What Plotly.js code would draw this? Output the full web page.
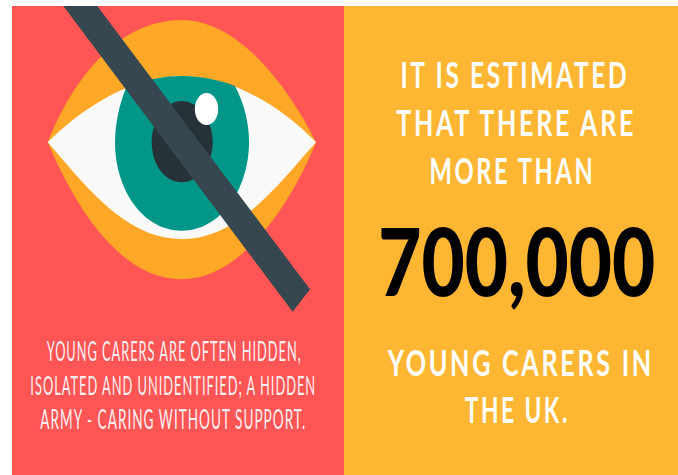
<!DOCTYPE html>
<html>
<head>
<meta charset="utf-8">
<script src="https://cdn.plot.ly/plotly-3.0.1.min.js"></script>
<style>html,body{margin:0;padding:0;background:#fff}</style>
</head>
<body>
<div id="chart" style="width:678px;height:475px"></div>
<script>
// Text lines and where each one sits in the reference
const textLines = [
  "YOUNG CARERS ARE OFTEN HIDDEN,",
  "ISOLATED AND UNIDENTIFIED; A HIDDEN",
  "ARMY - CARING WITHOUT SUPPORT.",
  "IT IS ESTIMATED",
  "THAT THERE ARE",
  "MORE THAN",
  "700,000",
  "YOUNG CARERS IN",
  "THE UK."
];
const lineCentreX = [173.5, 173, 173, 515, 516, 512.5, 516.5, 520, 517.5];
const lineCentreY = [350, 384, 418, 73, 121, 169, 260, 361, 408];
const lineWidth   = [255, 286, 266, 229, 240, 166, 277, 267, 105];
const lineSize    = [27, 27, 27, 37, 37, 37, 93, 37, 37];
const lineColor   = ["#fff0f0","#fff0f0","#fff0f0","#ffffff","#ffffff","#ffffff","#000000","#ffffff","#ffffff"];
const lineWeight  = [400, 400, 400, 700, 700, 700, 900, 700, 700];
const lineGap     = [2, 2, 2, 4, 4, 4, 0, 4, 4];

// Illustration outlines
const orangeOutline = "M47.7,142.3 C70,85 115,20 181.7,20 C240,20 290,90 316,142.3 C295,195 245,279.3 181.7,279.3 C115,279.3 70,195 47.7,142.3 Z";
const scleraOutline = "M47.7,142.3 C80,110 130,76 181.7,76 C235,76 285,110 316,142.3 C278,185 238,239 181.7,239 C125,239 85,185 47.7,142.3 Z";
const irisOutline   = "M126,88 C145,79 165,76 181.7,76 C200,76 220,80 235,86 C245,105 249,125 249,142 C249,190 220,230.7 181.7,230.7 C143,230.7 115,190 115,142 C115,125 119,105 126,88 Z";
const pupilOutline  = "M151.7,142 C151.7,120 165,101 181.7,101 C198,101 212.7,120 212.7,142 C212.7,165 198,182.3 181.7,182.3 C165,182.3 151.7,165 151.7,142 Z";
const glintOutline  = "M194.8,109 C194.8,100 200,93 206.5,93 C213,93 218.2,100 218.2,109 C218.2,118 213,125 206.5,125 C200,125 194.8,118 194.8,109 Z";
const slashOutline  = "M63.3,6 L97.3,6 L310,289.3 L292.7,311.7 Z";
const leftPanel  = "M12,6 L344,6 L344,475 L12,475 Z";
const rightPanel = "M344,6 L678,6 L678,475 L344,475 Z";

const paths  = [leftPanel, rightPanel, orangeOutline, scleraOutline, irisOutline, pupilOutline, glintOutline, slashOutline];
const fills  = ["#ff5555", "#ffb733", "#ffa726", "#fafafa", "#009688", "#263238", "#ffffff", "#37474f"];

const layout = {
  width: 678, height: 475,
  margin: {l:0, r:0, t:0, b:0},
  paper_bgcolor: "#ffffff", plot_bgcolor: "#ffffff",
  showlegend: false,
  xaxis: {range:[0,678], visible:false, fixedrange:true},
  yaxis: {range:[475,0], visible:false, fixedrange:true},
  shapes: paths.map((p,i)=>({type:"path", path:p, xref:"x", yref:"y", fillcolor:fills[i], line:{width:0}, layer:"below"})),
  annotations: textLines.map((t,i)=>({
    text:t, x:lineCentreX[i], y:lineCentreY[i], xref:"x", yref:"y",
    xanchor:"center", yanchor:"middle", showarrow:false,
    font:{family:"Lato, 'Open Sans', sans-serif", size:lineSize[i], color:lineColor[i], weight:lineWeight[i]}
  }))
};
const trace = {x:[0,678], y:[0,475], type:"scatter", mode:"markers", marker:{opacity:0}, hoverinfo:"skip"};
Plotly.newPlot("chart", [trace], layout, {displayModeBar:false, staticPlot:true}).then(gd=>{
  gd.querySelectorAll(".annotation-text").forEach((el,i)=>{
    el.style.letterSpacing = lineGap[i] + "px";
    const box = el.getBBox();
    const cx = box.x + box.width/2;
    const sx = lineWidth[i] / box.width;
    const old = el.getAttribute("transform") || "";
    el.setAttribute("transform", old + ` translate(${cx},0) scale(${sx},1) translate(${-cx},0)`);
  });
});
</script>
</body>
</html>
